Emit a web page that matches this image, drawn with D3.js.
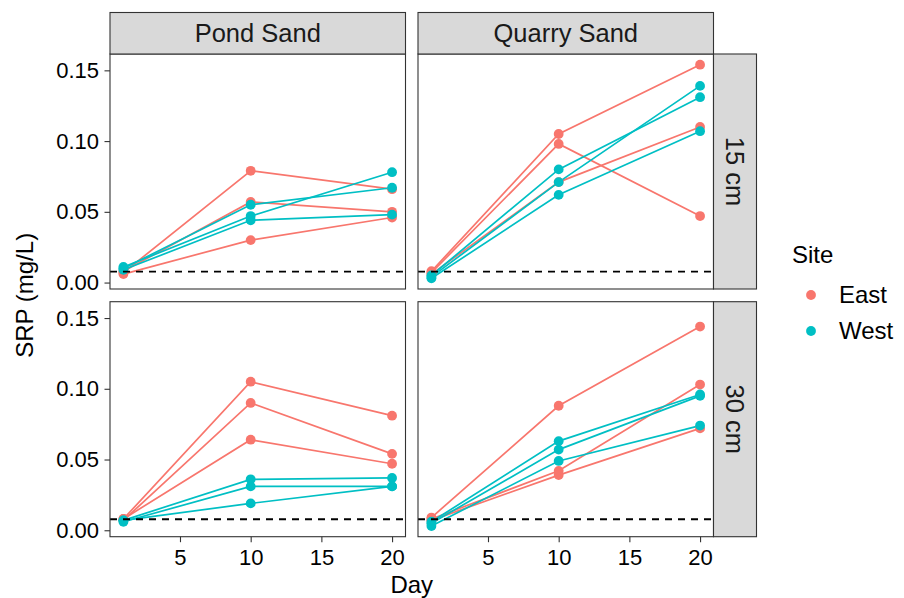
<!DOCTYPE html>
<html>
<head>
<meta charset="utf-8">
<script src="https://cdn.jsdelivr.net/npm/d3@7"></script>
<style>
  body { margin: 0; background: #fff; }
  text { font-family: "Liberation Sans", Arial, sans-serif; }
</style>
</head>
<body>
<script>
// data: SRP (mg/L) per replicate at days 1, 10, 20
var days = [1, 10, 20];
var sites = ["East", "West"];
var sands = ["Pond Sand", "Quarry Sand"];
var depths = ["15 cm", "30 cm"];
var xTicks = [5, 10, 15, 20];
var yTicks = [0, 0.05, 0.1, 0.15];
var threshold = 0.0078;

var pond15East = [[0.007, 0.079, 0.066], [0.008, 0.057, 0.050], [0.006, 0.030, 0.046]];
var pond15West = [[0.010, 0.055, 0.067], [0.011, 0.047, 0.078], [0.009, 0.044, 0.048]];
var quarry15East = [[0.008, 0.105, 0.154], [0.007, 0.098, 0.047], [0.006, 0.071, 0.110]];
var quarry15West = [[0.005, 0.080, 0.131], [0.004, 0.071, 0.139], [0.003, 0.062, 0.107]];
var pond30East = [[0.008, 0.105, 0.081], [0.007, 0.090, 0.054], [0.008, 0.064, 0.047]];
var pond30West = [[0.007, 0.036, 0.037], [0.006, 0.031, 0.031], [0.007, 0.019, 0.031]];
var quarry30East = [[0.009, 0.088, 0.144], [0.008, 0.042, 0.103], [0.007, 0.039, 0.072]];
var quarry30West = [[0.006, 0.063, 0.096], [0.005, 0.057, 0.095], [0.003, 0.049, 0.074]];

function main() {
  var width = 904, height = 598;
  var colors = { East: "#F8766D", West: "#00BFC4" };

  // panels in facet order (row = depth, column = sand)
  var panels = [
    { row: 0, col: 0, East: pond15East, West: pond15West },
    { row: 0, col: 1, East: quarry15East, West: quarry15West },
    { row: 1, col: 0, East: pond30East, West: pond30West },
    { row: 1, col: 1, East: quarry30East, West: quarry30West }
  ];

  var panelLeft = [110, 418], panelW = 295.5;
  var panelTop = [54, 301.7], panelH = 235;
  var stripTop = 12.5, stripRightW = 43;

  var svg = d3.select("body").append("svg")
    .attr("width", width)
    .attr("height", height);

  // ggplot style 5% expansion
  var all = [];
  panels.forEach(function (p) {
    sites.forEach(function (s) { p[s].forEach(function (r) { all = all.concat(r); }); });
  });
  var yMin = d3.min(all), yMax = d3.max(all), yPad = (yMax - yMin) * 0.05;
  var xPad = (d3.max(days) - d3.min(days)) * 0.05;

  var x = d3.scaleLinear().domain([d3.min(days) - xPad, d3.max(days) + xPad]).range([0, panelW]);
  var y = d3.scaleLinear().domain([yMin - yPad, yMax + yPad]).range([panelH, 0]);

  var line = d3.line()
    .x(function (d, i) { return x(days[i]); })
    .y(function (d) { return y(d); });

  panels.forEach(function (p) {
    var g = svg.append("g")
      .attr("transform", "translate(" + panelLeft[p.col] + "," + panelTop[p.row] + ")");

    g.append("rect")
      .attr("width", panelW).attr("height", panelH)
      .attr("fill", "#fff");

    sites.forEach(function (s) {
      g.selectAll(".line-" + s)
        .data(p[s]).enter().append("path")
        .attr("d", line)
        .attr("fill", "none")
        .attr("stroke", colors[s])
        .attr("stroke-width", 1.7);
    });

    sites.forEach(function (s) {
      p[s].forEach(function (rep) {
        g.selectAll(null)
          .data(rep).enter().append("circle")
          .attr("cx", function (d, i) { return x(days[i]); })
          .attr("cy", function (d) { return y(d); })
          .attr("r", 4.9)
          .attr("fill", colors[s]);
      });
    });

    g.append("line")
      .attr("x1", 0).attr("x2", panelW)
      .attr("y1", y(threshold)).attr("y2", y(threshold))
      .attr("stroke", "#000")
      .attr("stroke-width", 1.8)
      .attr("stroke-dasharray", "7,6");

    g.append("rect")
      .attr("width", panelW).attr("height", panelH)
      .attr("fill", "none")
      .attr("stroke", "#333")
      .attr("stroke-width", 1.1);

    // y axis on the left column
    if (p.col === 0) {
      var ya = g.append("g").call(d3.axisLeft(y).tickValues(yTicks)
        .tickFormat(d3.format(".2f")).tickSize(5.5).tickPadding(5.5));
      ya.select(".domain").remove();
      ya.selectAll("line").attr("stroke", "#333").attr("stroke-width", 1.1);
      ya.selectAll("text").attr("font-size", 22).attr("fill", "#000")
        .attr("font-family", "Liberation Sans, Arial, sans-serif");
    }
    // x axis on the bottom row
    if (p.row === 1) {
      var xa = g.append("g").attr("transform", "translate(0," + panelH + ")")
        .call(d3.axisBottom(x).tickValues(xTicks).tickSize(5.5).tickPadding(7.5));
      xa.select(".domain").remove();
      xa.selectAll("line").attr("stroke", "#333").attr("stroke-width", 1.1);
      xa.selectAll("text").attr("font-size", 22).attr("fill", "#000")
        .attr("font-family", "Liberation Sans, Arial, sans-serif");
    }
  });

  // top strips
  sands.forEach(function (name, i) {
    svg.append("rect")
      .attr("x", panelLeft[i]).attr("y", stripTop)
      .attr("width", panelW).attr("height", panelTop[0] - stripTop)
      .attr("fill", "#D9D9D9").attr("stroke", "#333").attr("stroke-width", 1.1);
    svg.append("text")
      .attr("x", panelLeft[i] + panelW / 2).attr("y", (stripTop + panelTop[0]) / 2)
      .attr("dy", "0.35em")
      .attr("text-anchor", "middle")
      .attr("font-size", 25.5)
      .attr("fill", "#1A1A1A")
      .text(name);
  });

  // right strips
  var stripX = panelLeft[1] + panelW;
  depths.forEach(function (name, i) {
    svg.append("rect")
      .attr("x", stripX).attr("y", panelTop[i])
      .attr("width", stripRightW).attr("height", panelH)
      .attr("fill", "#D9D9D9").attr("stroke", "#333").attr("stroke-width", 1.1);
    svg.append("text")
      .attr("transform", "translate(" + (stripX + stripRightW / 2) + "," + (panelTop[i] + panelH / 2) + ") rotate(90)")
      .attr("dy", "0.35em")
      .attr("text-anchor", "middle")
      .attr("font-size", 25.5)
      .attr("fill", "#1A1A1A")
      .text(name);
  });

  // axis titles
  svg.append("text")
    .attr("x", (panelLeft[0] + panelLeft[1] + panelW) / 2)
    .attr("y", 593)
    .attr("text-anchor", "middle")
    .attr("font-size", 24)
    .text("Day");

  svg.append("text")
    .attr("transform", "translate(33," + (panelTop[0] + panelTop[1] + panelH) / 2 + ") rotate(-90)")
    .attr("text-anchor", "middle")
    .attr("font-size", 24)
    .text("SRP (mg/L)");

  // legend
  var legend = svg.append("g").attr("transform", "translate(792,0)");
  legend.append("text")
    .attr("x", 0).attr("y", 263)
    .attr("font-size", 24)
    .text("Site");
  var items = legend.selectAll(".item")
    .data(sites).enter().append("g")
    .attr("transform", function (d, i) { return "translate(0," + (295 + i * 36) + ")"; });
  items.append("circle")
    .attr("cx", 19).attr("cy", 0).attr("r", 4.9)
    .attr("fill", function (d) { return colors[d]; });
  items.append("text")
    .attr("x", 47).attr("y", 0).attr("dy", "0.35em")
    .attr("font-size", 24)
    .text(function (d) { return d; });
}
document.addEventListener("DOMContentLoaded", main);
</script>
</body>
</html>
